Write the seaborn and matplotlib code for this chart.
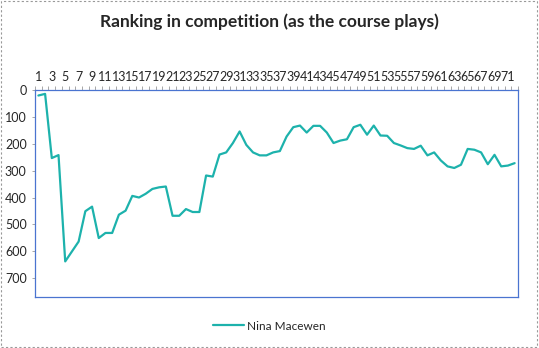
"""
Ranking in competition — one runner's position after each leg.
"""

import numpy as np
import pandas as pd
import matplotlib
matplotlib.use("Agg")
import matplotlib.pyplot as plt
from matplotlib.patches import Rectangle
import seaborn as sns

# ranking after each control
controls = list(range(1, 73))
ranking = [20, 14, 253, 242, 638, 601, 564, 451, 434, 551,
           532, 532, 464, 449, 394, 400, 386, 368, 362, 359,
           468, 468, 443, 454, 454, 318, 322, 240, 232, 197,
           154, 204, 232, 243, 243, 232, 227, 173, 138, 132,
           158, 133, 133, 158, 197, 188, 183, 138, 129, 166,
           132, 169, 170, 197, 206, 216, 219, 207, 243, 232,
           262, 284, 290, 278, 219, 222, 232, 276, 241, 284,
           281, 272]
runner = "Nina Macewen"
title = "Ranking in competition (as the course plays)"
y_ticks = [0, 100, 200, 300, 400, 500, 600, 700]

df = pd.DataFrame({"pos": np.arange(len(controls)), "rank": ranking})

sns.set_style("white")
plt.rcParams["font.family"] = ["Lato", "DejaVu Sans"]

LINE = "#1DB2AC"
BORDER = "#4A74D0"

fig = plt.figure(figsize=(5.39, 3.48), dpi=100)
ax = fig.add_axes([0.065, 0.147, 0.896, 0.594])

sns.lineplot(data=df, x="pos", y="rank", ax=ax, color=LINE, lw=1.6, label=runner)
ax.get_legend().remove()

ax.set_xlim(-0.5, len(controls) - 0.5)
ax.set_ylim(770, 0)
ax.xaxis.tick_top()
ax.set_xticks(np.arange(0, len(controls), 2))
ax.set_xticklabels([str(c) for c in controls[::2]], fontsize=9)
ax.set_xticks(np.arange(-0.5, len(controls), 1), minor=True)
ax.tick_params(axis="x", which="major", length=0, pad=5)
ax.tick_params(axis="x", which="minor", length=3, color="#999999", width=0.6, top=True)
ax.set_yticks(y_ticks)
ax.set_yticklabels([str(v) for v in y_ticks], fontsize=9)
ax.tick_params(axis="y", which="major", length=2, color="#999999", width=0.6, left=True, pad=4)
ax.set_xlabel("")
ax.set_ylabel("")

for side in ax.spines.values():
    side.set_visible(True)
    side.set_color(BORDER)
    side.set_linewidth(0.9)

fig.text(0.5, 0.937, title, ha="center", va="center", fontsize=12.5, fontweight="bold")

handles, labels = ax.get_lines()[:1], [runner]
fig.legend(handles, labels, loc="center", bbox_to_anchor=(0.5, 0.063), frameon=False,
           fontsize=8.5, handlelength=2.6, handletextpad=0.3)

fig.patches.append(Rectangle((0.002, 0.003), 0.994, 0.994, transform=fig.transFigure,
                             fill=False, edgecolor="#999999", linestyle=(0, (2, 2)), lw=0.8))

fig.savefig("out.png", dpi=100)
